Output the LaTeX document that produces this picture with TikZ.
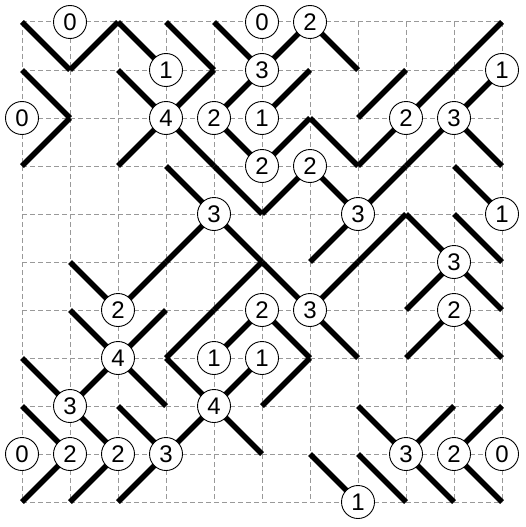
\documentclass[tikz,border=0pt]{standalone}
\usepackage{fontspec}
\setmainfont{Liberation Sans}
\begin{document}
\begin{tikzpicture}[x=1pt,y=-1pt,
  gridline/.style={draw=black!40,line width=1pt,dash pattern=on 5pt off 3pt},
  slant/.style={draw=black,line width=5.5pt,line cap=butt},
  clue/.style={circle,draw=black,line width=0.9pt,fill=white,minimum size=33pt,inner sep=0pt,font=\fontsize{24}{24}\selectfont}]
\useasboundingbox (0,0) rectangle (525,527);
\begin{scope}[shift={(22,22)},x=48pt,y=-48pt]
  \foreach \i in {0,...,10} {
    \draw[gridline] (\i,0) -- (\i,10);
    \draw[gridline] (0,\i) -- (10,\i);
  }
  % backslash cells: row / columns
  \foreach \r/\cols in {0/{0,2,3,4,6},1/{0,2},2/{3,4,6,9},3/{3,4,6,9},4/{4,8,9},5/{1,5,9},6/{1,5,6,9},7/{0,2,3},8/{0,1,2,4,7},9/{6,7,8,9}} {
    \foreach \c in \cols {
      \draw[slant] (\c,\r) -- ({\c+1},{\r+1});
    }
  }
  % slash cells
  \foreach \r/\cols in {0/{1,5,9},1/{3,4,5,7,8,9},2/{0,2,5,7,8},3/{5,7},4/{3,6,7},5/{2,4,6,8},6/{2,3,4,8},7/{1,4,5},8/{3,8,9},9/{0,1,2}} {
    \foreach \c in \cols {
      \draw[slant] (\c,{\r+1}) -- ({\c+1},\r);
    }
  }
  \foreach \i/\j/\n [count=\k] in {1/0/0,5/0/0,6/0/2,3/1/1,5/1/3,10/1/1,0/2/0,3/2/4,4/2/2,5/2/1,8/2/2,9/2/3,5/3/2,6/3/2,4/4/3,7/4/3,10/4/1,9/5/3,2/6/2,5/6/2,6/6/3,9/6/2,2/7/4,4/7/1,5/7/1,1/8/3,4/8/4,0/9/0,1/9/2,2/9/2,3/9/3,8/9/3,9/9/2,10/9/0,7/10/1} {
    \node[clue] (c\k) at (\i,\j) {\n};
  }
\end{scope}
\end{tikzpicture}
\end{document}
